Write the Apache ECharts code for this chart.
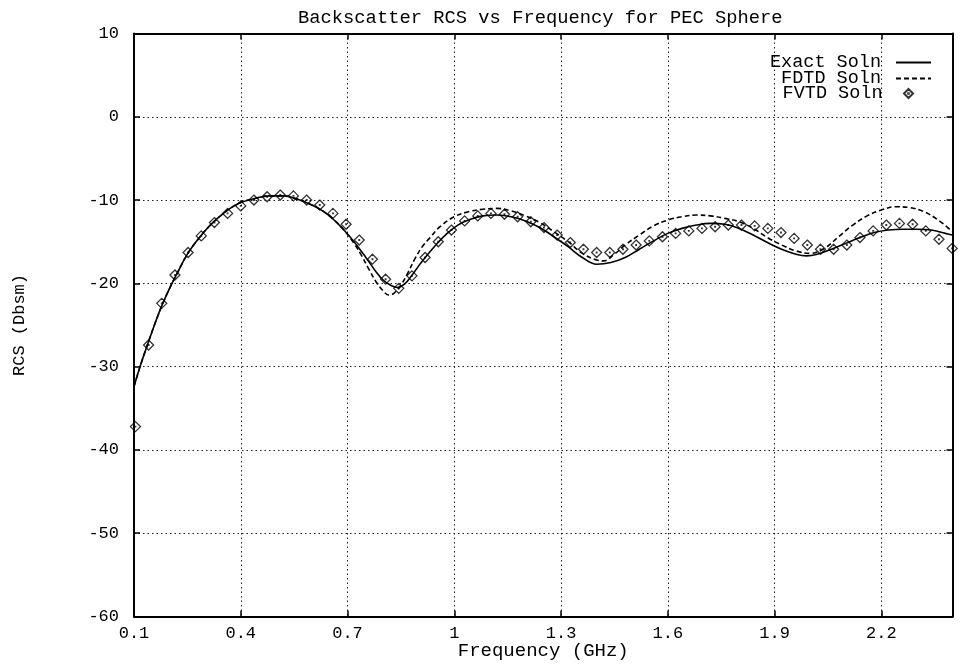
<!DOCTYPE html>
<html>
<head>
<meta charset="utf-8">
<script src="https://cdn.jsdelivr.net/npm/echarts@6/dist/echarts.min.js"></script>
<style>html,body{margin:0;padding:0;background:#fff}#c{width:961px;height:664px}</style>
</head>
<body>
<div id="c"></div>
<script>
const titleText = 'Backscatter RCS vs Frequency for PEC Sphere';
const xAxisName = 'Frequency (GHz)';
const yAxisName = 'RCS (Dbsm)';
const xTickValues = [0.1, 0.4, 0.7, 1, 1.3, 1.6, 1.9, 2.2];
const seriesNames = ['Exact Soln', 'FDTD Soln', 'FVTD Soln'];

const exactFreq = [0.10,0.12,0.14,0.16,0.18,0.20,0.22,0.25,0.28,0.31,0.34,0.37,0.40,0.44,0.48,0.52,0.56,0.60,0.63,0.66,0.69,0.72,0.75,0.78,0.80,0.82,0.84,0.86,0.88,0.90,0.92,0.95,0.98,1.01,1.04,1.08,1.12,1.16,1.20,1.24,1.28,1.32,1.36,1.40,1.44,1.48,1.52,1.56,1.60,1.64,1.68,1.72,1.76,1.80,1.84,1.88,1.92,1.96,1.99,2.02,2.06,2.10,2.14,2.18,2.22,2.26,2.30,2.34,2.38,2.40];
const exactRcs = [-32.4,-29.6,-27.1,-24.7,-22.5,-20.6,-18.9,-16.5,-14.7,-13.2,-12.0,-11.0,-10.3,-9.8,-9.5,-9.5,-9.9,-10.6,-11.3,-12.3,-13.6,-15.1,-16.8,-18.6,-19.6,-20.2,-20.5,-20.1,-19.1,-17.9,-16.8,-15.3,-14.0,-13.0,-12.4,-11.9,-11.8,-12.0,-12.5,-13.3,-14.4,-15.6,-16.9,-17.7,-17.5,-16.9,-15.9,-14.9,-14.0,-13.4,-13.0,-12.8,-12.9,-13.4,-14.2,-15.1,-15.9,-16.5,-16.7,-16.5,-15.9,-15.2,-14.5,-13.9,-13.6,-13.5,-13.5,-13.6,-14.0,-14.2];

const fdtdFreq = [0.10,0.12,0.14,0.16,0.18,0.20,0.22,0.25,0.28,0.31,0.34,0.37,0.40,0.44,0.48,0.52,0.56,0.60,0.63,0.66,0.69,0.72,0.74,0.76,0.78,0.80,0.815,0.83,0.85,0.87,0.89,0.91,0.93,0.96,1.00,1.04,1.08,1.12,1.16,1.20,1.24,1.28,1.32,1.36,1.40,1.42,1.45,1.48,1.52,1.56,1.60,1.64,1.68,1.72,1.76,1.80,1.84,1.88,1.92,1.96,2.00,2.04,2.08,2.12,2.16,2.20,2.24,2.28,2.32,2.36,2.40];
const fdtdRcs = [-32.4,-29.6,-27.1,-24.7,-22.5,-20.6,-18.9,-16.5,-14.7,-13.2,-12.0,-11.0,-10.3,-9.8,-9.5,-9.5,-9.9,-10.6,-11.3,-12.3,-13.6,-15.3,-16.7,-18.3,-19.8,-20.9,-21.4,-21.2,-20.2,-18.7,-17.0,-15.6,-14.6,-13.2,-12.0,-11.4,-11.1,-11.0,-11.3,-11.9,-12.7,-13.8,-15.0,-16.4,-17.2,-17.3,-16.5,-15.4,-14.2,-13.1,-12.4,-12.0,-11.8,-11.9,-12.2,-12.6,-13.4,-14.5,-15.4,-16.1,-16.4,-15.8,-14.4,-13.0,-11.9,-11.2,-10.8,-10.9,-11.4,-12.4,-13.8];

const fvtdFreq = [0.104,0.141,0.178,0.215,0.252,0.289,0.326,0.363,0.400,0.437,0.474,0.511,0.548,0.585,0.622,0.659,0.696,0.733,0.770,0.807,0.844,0.881,0.918,0.955,0.992,1.029,1.066,1.103,1.141,1.178,1.215,1.252,1.289,1.326,1.363,1.400,1.437,1.474,1.511,1.548,1.585,1.622,1.659,1.696,1.733,1.770,1.807,1.844,1.881,1.918,1.955,1.992,2.029,2.066,2.103,2.140,2.177,2.214,2.251,2.288,2.325,2.362,2.399];
const fvtdRcs = [-37.2,-27.4,-22.4,-19.0,-16.3,-14.3,-12.7,-11.6,-10.7,-10.0,-9.6,-9.4,-9.5,-10.0,-10.6,-11.6,-12.9,-14.8,-17.1,-19.5,-20.6,-19.1,-16.9,-15.0,-13.6,-12.5,-11.9,-11.6,-11.7,-12.0,-12.6,-13.3,-14.2,-15.1,-15.9,-16.3,-16.3,-15.9,-15.4,-14.9,-14.4,-14.0,-13.7,-13.4,-13.2,-13.0,-13.0,-13.1,-13.4,-13.9,-14.6,-15.4,-15.9,-15.9,-15.4,-14.5,-13.7,-13.0,-12.8,-12.9,-13.7,-14.7,-15.8];

const zip = (a, b) => a.map((v, i) => [v, b[i]]);
const FONT = 'Liberation Mono';
const diamond = 'path://M5,0L10,5L5,10L0,5Z M4.7,4.7L5.3,4.7L5.3,5.3L4.7,5.3Z';

const chart = echarts.init(document.getElementById('c'), null, {renderer: 'canvas'});
const axisLineStyle = {color: '#000', width: 2};
const gridDots = {color: '#222', width: 1, type: [1.5, 3]};

const legendBase = {
  orient: 'vertical', align: 'right', selectedMode: false,
  itemWidth: 35, itemHeight: 14,
  textStyle: {fontFamily: FONT, fontSize: 18.5, color: '#000', padding: [0, 10, 0, 0]}
};

chart.setOption({
  animation: false,
  backgroundColor: '#fff',
  title: {
    text: titleText, left: 293, top: 4,
    textStyle: {fontFamily: FONT, fontSize: 18.8, fontWeight: 'normal', color: '#000'}
  },
  legend: [
    Object.assign({}, legendBase, {data: [seriesNames[0]], right: 24, top: 48, itemStyle: {opacity: 0}}),
    Object.assign({}, legendBase, {data: [seriesNames[1]], right: 24, top: 64, itemStyle: {opacity: 0}}),
    Object.assign({}, legendBase, {data: [seriesNames[2]], right: 42, top: 79, itemWidth: 22, itemHeight: 9})
  ],
  grid: {left: 134, right: 8.5, top: 33.5, bottom: 47.5, containLabel: false, outerBoundsMode: 'none'},
  xAxis: [
    {
      type: 'value', min: 0.1, max: 2.4, position: 'bottom',
      name: xAxisName, nameLocation: 'middle', nameGap: 25, nameMoveOverlap: false,
      nameTextStyle: {fontFamily: FONT, fontSize: 19, color: '#000'},
      axisLine: {show: true, onZero: false, lineStyle: axisLineStyle},
      axisTick: {show: true, inside: true, length: 6, customValues: xTickValues, lineStyle: {color: '#000', width: 1.5}},
      axisLabel: {customValues: xTickValues, margin: 8, fontFamily: FONT, fontSize: 17, color: '#000'},
      splitLine: {show: true, lineStyle: gridDots}
    },
    {
      type: 'value', min: 0.1, max: 2.4, position: 'top',
      axisLine: {show: true, onZero: false, lineStyle: axisLineStyle},
      axisTick: {show: true, inside: true, length: 6, customValues: xTickValues, lineStyle: {color: '#000', width: 1.5}},
      axisLabel: {show: false},
      splitLine: {show: false}
    }
  ],
  yAxis: [
    {
      type: 'value', min: -60, max: 10, interval: 10, position: 'left',
      name: yAxisName, nameLocation: 'middle', nameGap: 106, nameRotate: 90, nameMoveOverlap: false,
      nameTextStyle: {fontFamily: FONT, fontSize: 17, color: '#000'},
      axisLine: {show: true, onZero: false, lineStyle: axisLineStyle},
      axisTick: {show: true, inside: true, length: 6, lineStyle: {color: '#000', width: 1.5}},
      axisLabel: {margin: 15, fontFamily: FONT, fontSize: 17, color: '#000'},
      splitLine: {show: true, lineStyle: gridDots}
    },
    {
      type: 'value', min: -60, max: 10, interval: 10, position: 'right',
      axisLine: {show: true, onZero: false, lineStyle: axisLineStyle},
      axisTick: {show: true, inside: true, length: 6, lineStyle: {color: '#000', width: 1.5}},
      axisLabel: {show: false},
      splitLine: {show: false}
    }
  ],
  series: [
    {
      name: seriesNames[0], type: 'line', data: zip(exactFreq, exactRcs),
      symbol: 'none', showSymbol: false, smooth: 0.4,
      lineStyle: {color: '#000', width: 1.6}, itemStyle: {color: '#000'}, z: 3
    },
    {
      name: seriesNames[1], type: 'line', data: zip(fdtdFreq, fdtdRcs),
      symbol: 'none', showSymbol: false, smooth: 0.4,
      lineStyle: {color: '#000', width: 1.6, type: [5, 3]}, itemStyle: {color: '#000'}, z: 3
    },
    {
      name: seriesNames[2], type: 'scatter', data: zip(fvtdFreq, fvtdRcs),
      symbol: diamond, symbolSize: 10,
      itemStyle: {color: 'rgba(255,255,255,0)', borderColor: '#000', borderWidth: 1.3}, z: 4
    }
  ]
});
</script>
</body>
</html>
